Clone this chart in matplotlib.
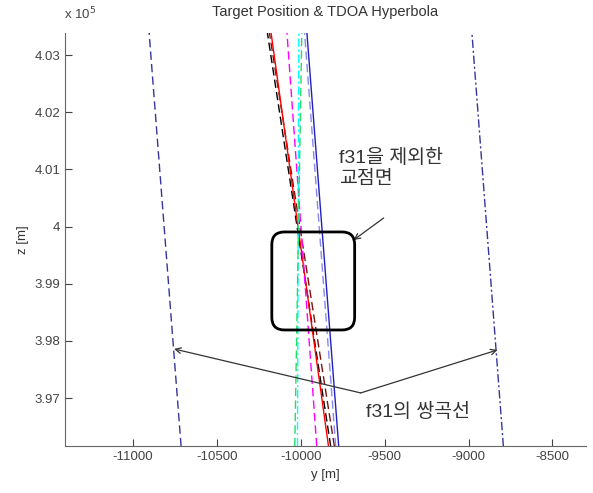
import matplotlib.pyplot as plt
from matplotlib.patches import FancyBboxPatch
from matplotlib.ticker import FixedLocator, FuncFormatter

plt.rcParams['font.family'] = ['Liberation Sans', 'Noto Sans CJK KR', 'DejaVu Sans']
plt.rcParams['axes.unicode_minus'] = False

# z range covered by the hyperbola branches (m)
z_ends = [396160, 403400]

# y position (m) of each hyperbola branch at the bottom and top of the view
curve_names = ['f31 a', 'f31 b', 'f21', 'f41', 'f32', 'f42', 'f43', 'f23', 'f24', 'f34']
y_bottom = [-10714, -8792, -9822, -9800, -9835, -9905, -10020, -10036, -9774, -9792]
y_top = [-10905, -8980, -10200, -10188, -10178, -10083, -10012, -9994, -9964, -9978]
colors = ['#35359a', '#35359a', 'black', '#7a1010', 'red', 'magenta', 'cyan', '#22dd66', '#2020c0', '#8888ee']
styles = ['--', '-.', '--', '--', '-', '--', '-.', '--', '-', '--']

xticks = [-11000, -10500, -10000, -9500, -9000, -8500]
zticks = [397000, 398000, 399000, 400000, 401000, 402000, 403000]

# matlab-ish dash patterns
dash_map = {'--': (0, (6, 3)), '-.': (0, (6, 2, 1.5, 2)), '-': '-'}

fig = plt.figure(figsize=(5.93, 4.93), dpi=100)
ax = fig.add_axes([0.110, 0.095, 0.878, 0.838])

for yb, yt, c, ls in zip(y_bottom, y_top, colors, styles):
    ax.plot([yb, yt], z_ends, color=c, linestyle=dash_map[ls], linewidth=1.0)

ax.set_xlim(-11405, -8300)
ax.set_ylim(396160, 403385)
ax.xaxis.set_major_locator(FixedLocator(xticks))
ax.yaxis.set_major_locator(FixedLocator(zticks))
ax.yaxis.set_major_formatter(FuncFormatter(lambda v, p: f'{v / 1e5:g}'))
ax.tick_params(direction='in', length=5, labelsize=9.5, colors='#444444')
ax.spines['top'].set_visible(False)
ax.spines['right'].set_visible(False)
for s in ['left', 'bottom']:
    ax.spines[s].set_color('#666666')

ax.set_title('Target Position & TDOA Hyperbola', fontsize=10.5, color='#333333', pad=12)
ax.set_xlabel('y [m]', fontsize=9.5, color='#333333')
ax.set_ylabel('z [m]', fontsize=9.5, color='#333333')
fig.text(0.108, 0.960, r'x 10$^5$', fontsize=9.5, color='#444444', ha='left')

# intersection region (rounded box)
box = FancyBboxPatch((-10173, 398192), 494, 1714,
                     boxstyle='round,pad=0,rounding_size=75',
                     mutation_aspect=2.94, fill=False, edgecolor='black',
                     linewidth=2.0, zorder=5)
ax.add_patch(box)

ax.text(-9774, 401020, 'f31을 제외한\n교점면', fontsize=14, color='#333333',
        ha='left', va='center', linespacing=1.3)
ax.annotate('', xy=(-9685, 399766), xytext=(-9506, 400150),
            arrowprops=dict(arrowstyle='->', color='#333333', lw=0.9, shrinkA=0, shrinkB=0))

# pointers to the f31 hyperbola branches
vertex = (-9643, 397091)
ax.annotate('', xy=(-10756, 397860), xytext=vertex,
            arrowprops=dict(arrowstyle='->', color='#333333', lw=0.9, shrinkA=0, shrinkB=0))
ax.annotate('', xy=(-8827, 397843), xytext=vertex,
            arrowprops=dict(arrowstyle='->', color='#333333', lw=0.9, shrinkA=0, shrinkB=0))
ax.text(-9613, 396759, 'f31의 쌍곡선', fontsize=14, color='#333333',
        ha='left', va='center')

fig.savefig('out.png', dpi=100)
